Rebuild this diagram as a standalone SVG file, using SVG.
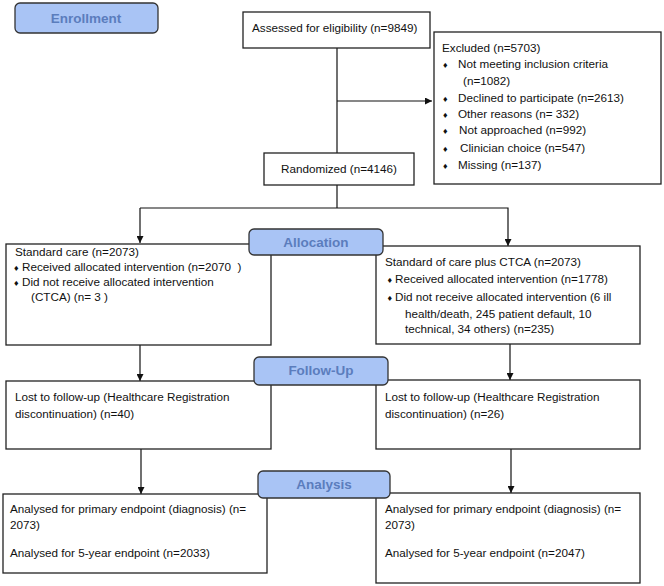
<svg xmlns="http://www.w3.org/2000/svg" width="664" height="586" viewBox="0 0 664 586">
<defs>
<marker id="ah" viewBox="0 0 10 10" refX="10" refY="5" markerWidth="7" markerHeight="7" orient="auto" markerUnits="userSpaceOnUse">
<path d="M0,0 L10,5 L0,10 z" fill="#111"/>
</marker>
<style>
.box{fill:#fff;stroke:#222;stroke-width:1.3}
.lab{fill:#a9c4f5;stroke:#333;stroke-width:1.3}
.lt{font-family:"Liberation Sans",Arial,sans-serif;font-weight:bold;font-size:13.5px;fill:#5b7dbd;text-anchor:middle}
.t{font-family:"Liberation Sans",Arial,sans-serif;font-size:11.7px;fill:#111;white-space:pre}
.b{font-family:"Liberation Sans",Arial,sans-serif;font-size:9px;fill:#111}
.c{fill:none;stroke:#111;stroke-width:1.2}
</style>
</defs>
<rect width="664" height="586" fill="#fff"/>
<g id="connectors">
<line class="c" x1="337" y1="48" x2="337" y2="153"/>
<line class="c" x1="337" y1="101" x2="432" y2="101" marker-end="url(#ah)"/>
<line class="c" x1="337" y1="185" x2="337" y2="208"/>
<polyline class="c" points="140,208 508,208 508,246" marker-end="url(#ah)"/>
<line class="c" x1="140" y1="208" x2="140" y2="243" marker-end="url(#ah)"/>
<line class="c" x1="140" y1="345" x2="140" y2="381" marker-end="url(#ah)"/>
<line class="c" x1="510" y1="344" x2="510" y2="380" marker-end="url(#ah)"/>
<line class="c" x1="141" y1="449" x2="141" y2="494" marker-end="url(#ah)"/>
<line class="c" x1="511" y1="449" x2="511" y2="493" marker-end="url(#ah)"/>
</g>
<g id="assessed">
<rect class="box" x="243" y="12" width="187" height="36"/>
<text class="t" x="252" y="31.5">Assessed for eligibility (n=9849)</text>
</g>
<g id="excluded">
<rect class="box" x="434" y="32" width="227" height="152"/>
<text class="t" x="442" y="52">Excluded (n=5703)</text>
<text class="b" x="443" y="67.5">♦</text><text class="t" x="458" y="67.5">Not meeting inclusion criteria</text>
<text class="t" x="463" y="85">(n=1082)</text>
<text class="b" x="443" y="102">♦</text><text class="t" x="458" y="102">Declined to participate (n=2613)</text>
<text class="b" x="443" y="117.5">♦</text><text class="t" x="458" y="117.5">Other reasons (n= 332)</text>
<text class="b" x="443" y="134">♦</text><text class="t" x="459" y="134">Not approached (n=992)</text>
<text class="b" x="443" y="152">♦</text><text class="t" x="460" y="152">Clinician choice (n=547)</text>
<text class="b" x="443" y="168.5">♦</text><text class="t" x="458" y="168.5">Missing (n=137)</text>
</g>
<g id="randomized">
<rect class="box" x="264" y="153" width="150" height="32"/>
<text class="t" x="281" y="172.5">Randomized (n=4146)</text>
</g>
<g id="standard">
<rect class="box" x="6" y="244" width="265" height="101"/>
<text class="t" x="15" y="256">Standard care (n=2073)</text>
<text class="b" x="14" y="271">♦</text><text class="t" x="22" y="271" xml:space="preserve">Received allocated intervention (n=2070  )</text>
<text class="b" x="14" y="286">♦</text><text class="t" x="22" y="286">Did not receive allocated intervention</text>
<text class="t" x="31" y="301">(CTCA) (n= 3 )</text>
</g>
<g id="ctca">
<rect class="box" x="376" y="246" width="264" height="98"/>
<text class="t" x="385" y="266">Standard of care plus CTCA (n=2073)</text>
<text class="b" x="387.5" y="283">♦</text><text class="t" x="395" y="283">Received allocated intervention (n=1778)</text>
<text class="b" x="387.5" y="301">♦</text><text class="t" x="395" y="301">Did not receive allocated intervention (6 ill</text>
<text class="t" x="405" y="318">health/death, 245 patient default, 10</text>
<text class="t" x="405" y="333">technical, 34 others) (n=235)</text>
</g>
<g id="lost-left">
<rect class="box" x="6" y="381" width="265" height="68"/>
<text class="t" x="15" y="401">Lost to follow-up (Healthcare Registration</text>
<text class="t" x="15" y="417.5">discontinuation) (n=40)</text>
</g>
<g id="lost-right">
<rect class="box" x="376" y="380" width="264" height="69"/>
<text class="t" x="385" y="401">Lost to follow-up (Healthcare Registration</text>
<text class="t" x="385" y="417.5">discontinuation) (n=26)</text>
</g>
<g id="analysed-left">
<rect class="box" x="3" y="494" width="264" height="79"/>
<text class="t" x="10" y="512.5">Analysed for primary endpoint (diagnosis) (n=</text>
<text class="t" x="10" y="529">2073)</text>
<text class="t" x="10" y="557">Analysed for 5-year endpoint (n=2033)</text>
</g>
<g id="analysed-right">
<rect class="box" x="376" y="493" width="264" height="90"/>
<text class="t" x="385" y="512.5">Analysed for primary endpoint (diagnosis) (n=</text>
<text class="t" x="385" y="529">2073)</text>
<text class="t" x="385" y="557">Analysed for 5-year endpoint (n=2047)</text>
</g>
<g id="label-enrollment">
<rect class="lab" x="15" y="3" width="143" height="30" rx="5"/>
<text class="lt" x="86" y="23">Enrollment</text>
</g>
<g id="label-allocation">
<rect class="lab" x="249" y="229" width="134" height="26" rx="5"/>
<text class="lt" x="316" y="247">Allocation</text>
</g>
<g id="label-followup">
<rect class="lab" x="254" y="357" width="134" height="28" rx="5"/>
<text class="lt" x="321" y="375">Follow-Up</text>
</g>
<g id="label-analysis">
<rect class="lab" x="258" y="471" width="132" height="27" rx="5"/>
<text class="lt" x="324" y="489">Analysis</text>
</g>
</svg>
